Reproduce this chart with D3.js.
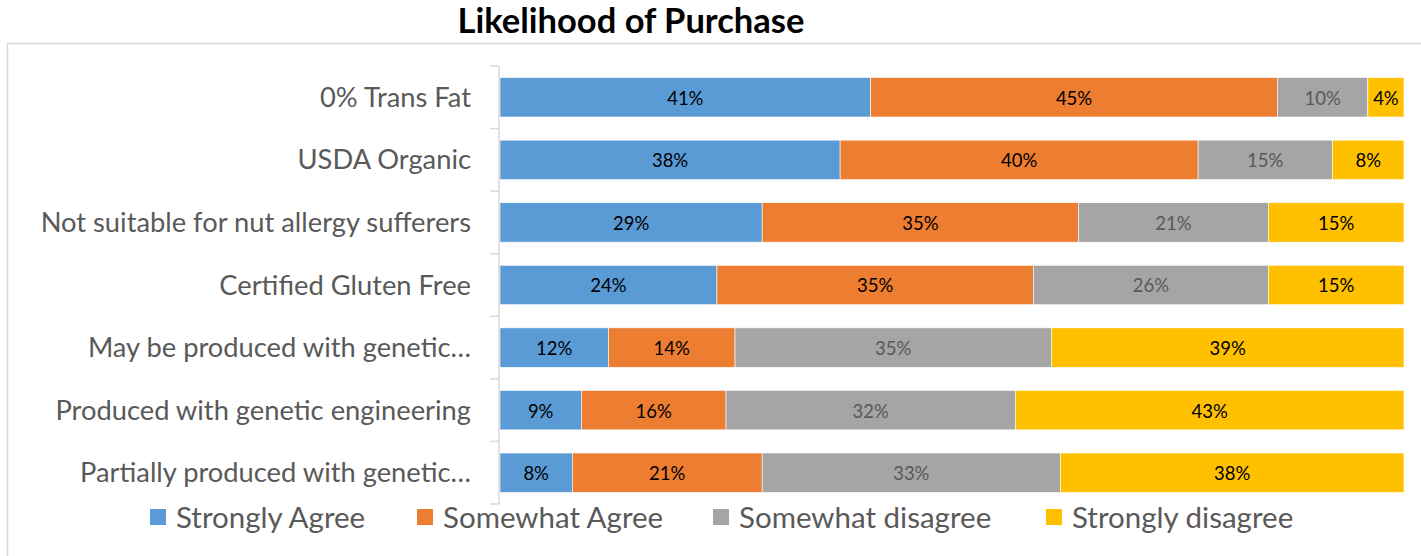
<!DOCTYPE html>
<html>
<head>
<meta charset="utf-8">
<script src="https://cdn.jsdelivr.net/npm/d3@7"></script>
<style>
  html, body { margin: 0; padding: 0; background: #fff; }
  svg { display: block; }
</style>
</head>
<body>
<svg id="chart" width="1421" height="556"></svg>
<script>
// Survey statements (top to bottom)
const categories = [
  "0% Trans Fat",
  "USDA Organic",
  "Not suitable for nut allergy sufferers",
  "Certified Gluten Free",
  "May be produced with genetic…",
  "Produced with genetic engineering",
  "Partially produced with genetic…"
];

// Response shares in percent, one array per response level
const seriesNames = ["Strongly Agree", "Somewhat Agree", "Somewhat disagree", "Strongly disagree"];
const stronglyAgree    = [41, 38, 29, 24, 12,  9,  8];
const somewhatAgree    = [45, 40, 35, 35, 14, 16, 21];
const somewhatDisagree = [10, 15, 21, 26, 35, 32, 33];
const stronglyDisagree = [ 4,  8, 15, 15, 39, 43, 38];

const colors = ["#5B9BD5", "#ED7D31", "#A5A5A5", "#FFC000"];
const labelColors = ["#000000", "#000000", "#595959", "#000000"];

const rows = categories.map((c, i) => ({
  category: c,
  "Strongly Agree": stronglyAgree[i],
  "Somewhat Agree": somewhatAgree[i],
  "Somewhat disagree": somewhatDisagree[i],
  "Strongly disagree": stronglyDisagree[i]
}));

const svg = d3.select("#chart");
const font = "Lato, 'Open Sans', sans-serif";

// chart frame
svg.append("rect")
  .attr("x", 7.5).attr("y", 43.5)
  .attr("width", 1440).attr("height", 560)
  .attr("fill", "none")
  .attr("stroke", "#d9d9d9")
  .attr("stroke-width", 1.5);

// title
svg.append("text")
  .attr("x", 631).attr("y", 33)
  .attr("text-anchor", "middle")
  .attr("font-family", font)
  .attr("font-weight", "bold")
  .attr("font-size", 34.5)
  .attr("fill", "#000")
  .text("Likelihood of Purchase");

const plot = { left: 499, right: 1404, top: 66, bottom: 504 };

const x = d3.scaleLinear().domain([0, 1]).range([plot.left + 1, plot.right]);
const y = d3.scaleBand().domain(categories).range([plot.top, plot.bottom]).paddingInner(0.37).paddingOuter(0.185);

const stack = d3.stack().keys(seriesNames).offset(d3.stackOffsetExpand);
const stacked = stack(rows);

const g = svg.append("g");

const layers = g.selectAll("g.layer")
  .data(stacked)
  .join("g")
  .attr("class", "layer")
  .attr("fill", (d, i) => colors[i]);

layers.selectAll("rect")
  .data(d => d)
  .join("rect")
  .attr("x", d => x(d[0]))
  .attr("y", d => y(d.data.category))
  .attr("width", d => x(d[1]) - x(d[0]))
  .attr("height", y.bandwidth())
  .attr("stroke", "#fff")
  .attr("stroke-width", 0.6);

// value labels inside segments
stacked.forEach((layer, si) => {
  g.selectAll(null)
    .data(layer)
    .join("text")
    .attr("x", d => (x(d[0]) + x(d[1])) / 2)
    .attr("y", d => y(d.data.category) + y.bandwidth() / 2 + 1)
    .attr("dy", "0.35em")
    .attr("text-anchor", "middle")
    .attr("font-family", font)
    .attr("font-size", 18.5)
    .attr("fill", labelColors[si])
    .text(d => d.data[layer.key] + "%");
});

// category axis with tick marks at band boundaries
const axisG = svg.append("g");
axisG.append("line")
  .attr("x1", plot.left).attr("x2", plot.left)
  .attr("y1", plot.top).attr("y2", plot.bottom)
  .attr("stroke", "#d9d9d9").attr("stroke-width", 1.5);
d3.range(categories.length + 1).forEach(i => {
  const yy = plot.top + i * (plot.bottom - plot.top) / categories.length;
  axisG.append("line")
    .attr("x1", plot.left - 9).attr("x2", plot.left)
    .attr("y1", yy).attr("y2", yy)
    .attr("stroke", "#d9d9d9").attr("stroke-width", 1.5);
});
axisG.selectAll("text.cat")
  .data(categories)
  .join("text")
  .attr("class", "cat")
  .attr("x", 471)
  .attr("y", d => y(d) + y.bandwidth() / 2)
  .attr("dy", "0.35em")
  .attr("text-anchor", "end")
  .attr("font-family", font)
  .attr("font-size", 27.3)
  .attr("fill", "#595959")
  .text(d => d);

// legend
const legendX = [150, 417, 713, 1046];
const legend = svg.append("g");
seriesNames.forEach((name, i) => {
  legend.append("rect")
    .attr("x", legendX[i]).attr("y", 509)
    .attr("width", 16).attr("height", 16)
    .attr("fill", colors[i]);
  legend.append("text")
    .attr("x", legendX[i] + 26).attr("y", 518)
    .attr("dy", "0.35em")
    .attr("font-family", font)
    .attr("font-size", 29.5)
    .attr("fill", "#595959")
    .text(name);
});
</script>
</body>
</html>
